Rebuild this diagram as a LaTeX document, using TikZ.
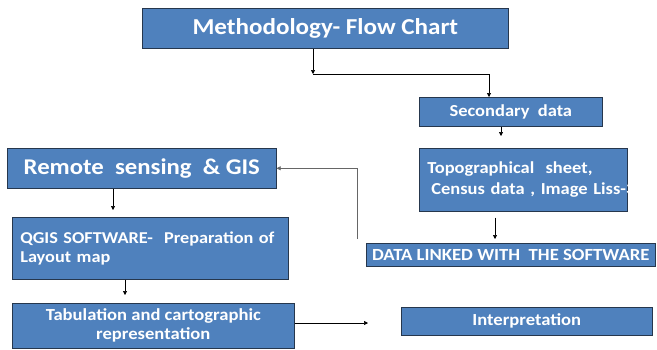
\documentclass[tikz,border=0pt]{standalone}
\usepackage{fontspec}
\setmainfont[FakeStretch=1.1]{Carlito}
\usetikzlibrary{arrows.meta,positioning,calc}
\definecolor{boxfill}{HTML}{4F81BD}
\definecolor{boxline}{HTML}{26374D}

\begin{document}
\begin{tikzpicture}[
  x=1pt, y=-1pt,
  stepbox/.style={draw=boxline, fill=boxfill, semithick, text=white,
    inner sep=0pt, anchor=north west, align=center},
  big/.style={font=\bfseries\fontsize{#1}{#1}\selectfont},
  flow/.style={-{Triangle[length=4pt, width=4pt]}, line width=0.6pt},
  backflow/.style={flow, black!60}
]
\useasboundingbox (0,0) rectangle (657,349);

\node[stepbox, big=22.8, minimum width=366pt, minimum height=40pt]
  (T) at (142,8) {Methodology- Flow Chart};
\node[stepbox, big=16.8, minimum width=183pt, minimum height=29pt]
  (S) at (419,97) {Secondary~ data};
\node[stepbox, minimum width=208pt, minimum height=63pt, text width=192pt,
  align=left, font=\bfseries\fontsize{16.8}{21}\selectfont]
  (P) at (419,148) {Topographical~ sheet,\\
  \hspace*{4pt}\mbox{Census data , Image Liss-3}};
\node[stepbox, big=17, minimum width=289pt, minimum height=23pt]
  (D) at (366,243) {DATA LINKED WITH~ THE SOFTWARE};
\node[stepbox, big=22.5, minimum width=269pt, minimum height=40pt]
  (R) at (7,148) {Remote~ sensing~ \& GIS};
\node[stepbox, minimum width=276pt, minimum height=62pt, text width=260pt,
  align=left, font=\bfseries\fontsize{16.6}{19}\selectfont]
  (Q) at (12,217) {QGIS SOFTWARE-~ Preparation of\\Layout map};
\node[stepbox, minimum width=282pt, minimum height=45pt,
  font=\bfseries\fontsize{16.9}{19}\selectfont]
  (Tb) at (12,303) {Tabulation and cartographic\\representation};
\node[stepbox, big=16.9, minimum width=251pt, minimum height=28pt]
  (I) at (401,307) {Interpretation};

% elbow from the title down to the secondary data
\coordinate (k1) at (313,74);
\coordinate (k2) at (489,74);
\draw[flow] (T.south -| k1) -- (k1);
\draw[flow] (k1) -- (k2) -- (k2 |- S.north);

\draw[flow, shorten >=12pt] (S.south -| 501,0) -- (P.north -| 501,0);
\draw[flow, shorten <=6pt, shorten >=4pt] (P.south -| 495,0) -- (D.north -| 495,0);

% data fed back to remote sensing
\coordinate (fb) at (357,239);
\draw[backflow] (fb) |- (R.east);

\draw[flow, shorten >=7pt] (R.south -| 113,0) -- (Q.north -| 113,0);
\draw[flow, shorten >=8pt] (Q.south -| 125,0) -- (Tb.north -| 125,0);
\draw[flow, shorten >=33pt] (Tb.east |- 0,323) -- (I.west |- 0,323);
\end{tikzpicture}
\end{document}
